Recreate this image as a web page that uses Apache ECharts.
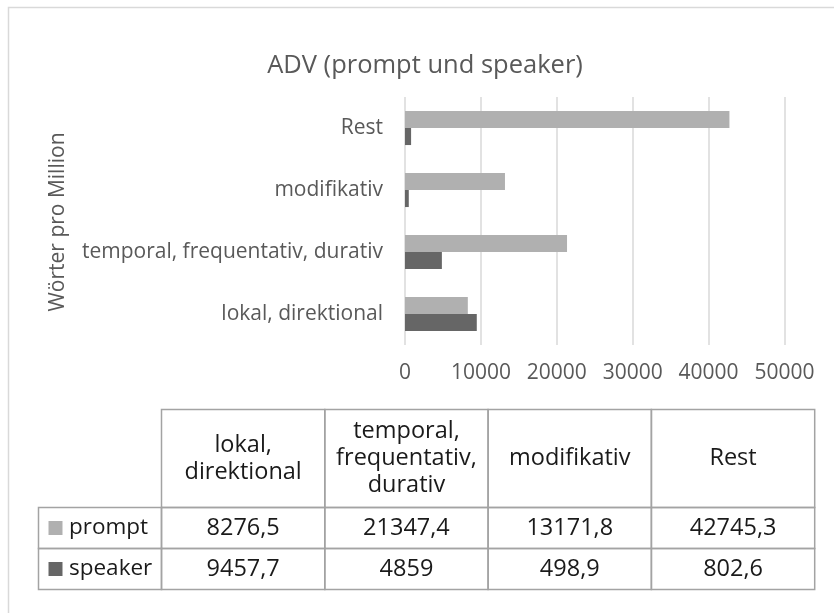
<!DOCTYPE html>
<html>
<head>
<meta charset="utf-8">
<script src="https://cdn.jsdelivr.net/npm/echarts@6/dist/echarts.min.js"></script>
<style>
html,body{margin:0;padding:0;background:#fff;}
#chart{width:834px;height:613px;}
</style>
</head>
<body>
<div id="chart"></div>
<script>
var titleText = 'ADV (prompt und speaker)';
var yAxisTitle = 'Wörter pro Million';
var categories = ['lokal, direktional', 'temporal, frequentativ, durativ', 'modifikativ', 'Rest'];
var tableHeaders = ['lokal,\ndirektional', 'temporal,\nfrequentativ,\ndurativ', 'modifikativ', 'Rest'];
var seriesNames = ['prompt', 'speaker'];
var promptValues = [8276.5, 21347.4, 13171.8, 42745.3];
var speakerValues = [9457.7, 4859, 498.9, 802.6];
var xTicks = [0, 10000, 20000, 30000, 40000, 50000];

var FONT = 'Open Sans';
var colors = { prompt: '#b0b0b0', speaker: '#666666' };

function fmt(v) { return String(v).replace('.', ','); }

var chart = echarts.init(document.getElementById('chart'), null, { renderer: 'canvas' });

var tX0 = 38.5, tLabelW = 123, colW = 163.3;
var tY0 = 409.5, headH = 98, rowH = 41;
var border = '#a3a3a3';
var TS = 23.5;
var g = [];
g.push({ type: 'rect', shape: { x: 8.5, y: 7.5, width: 900, height: 700 }, style: { fill: 'none', stroke: '#d9d9d9', lineWidth: 1.5 }, silent: true });
g.push({ type: 'text', x: 425, y: 66, style: { text: titleText, fontSize: 25.5, fontFamily: FONT, fill: '#595959', align: 'center', verticalAlign: 'middle' } });
g.push({ type: 'text', x: 58, y: 222, rotation: Math.PI / 2, style: { text: yAxisTitle, fontSize: 21, fontFamily: FONT, fill: '#595959', align: 'center', verticalAlign: 'middle' } });

var hx = tX0 + tLabelW;
for (var i = 0; i < tableHeaders.length; i++) {
  var cx = hx + i * colW;
  g.push({ type: 'rect', shape: { x: cx, y: tY0, width: colW, height: headH }, style: { fill: 'none', stroke: border, lineWidth: 1.5 } });
  g.push({ type: 'text', x: cx + colW / 2, y: tY0 + headH / 2, style: { text: tableHeaders[i], fontSize: TS, fontFamily: FONT, lineHeight: 27, fill: '#1a1a1a', align: 'center', verticalAlign: 'middle' } });
}
var rows = [promptValues, speakerValues];
for (var r = 0; r < rows.length; r++) {
  var ry = tY0 + headH + r * rowH;
  g.push({ type: 'rect', shape: { x: tX0, y: ry, width: tLabelW, height: rowH }, style: { fill: 'none', stroke: border, lineWidth: 1.5 } });
  g.push({ type: 'rect', shape: { x: tX0 + 10, y: ry + rowH / 2 - 7, width: 14, height: 14 }, style: { fill: colors[seriesNames[r]] } });
  g.push({ type: 'text', x: tX0 + 30.5, y: ry + rowH / 2, style: { text: seriesNames[r], fontSize: 22.5, fontFamily: FONT, fill: '#1a1a1a', align: 'left', verticalAlign: 'middle' } });
  for (var c = 0; c < rows[r].length; c++) {
    var cx2 = hx + c * colW;
    g.push({ type: 'rect', shape: { x: cx2, y: ry, width: colW, height: rowH }, style: { fill: 'none', stroke: border, lineWidth: 1.5 } });
    g.push({ type: 'text', x: cx2 + colW / 2, y: ry + rowH / 2, style: { text: fmt(rows[r][c]), fontSize: TS, fontFamily: FONT, fill: '#1a1a1a', align: 'center', verticalAlign: 'middle' } });
  }
}

var option = {
  animation: false,
  backgroundColor: '#ffffff',
  textStyle: { fontFamily: FONT },
  grid: { left: 405, right: 49.5, top: 97, bottom: 268, containLabel: false },
  xAxis: {
    type: 'value', min: xTicks[0], max: xTicks[xTicks.length - 1], interval: xTicks[1] - xTicks[0],
    axisLine: { show: false }, axisTick: { show: false },
    axisLabel: { fontSize: 21, color: '#595959', margin: 18, fontFamily: FONT, formatter: function (v) { return String(v); } },
    splitLine: { show: true, lineStyle: { color: '#d9d9d9', width: 1.5 } }
  },
  yAxis: {
    type: 'category', data: categories,
    axisLine: { show: false }, axisTick: { show: false },
    axisLabel: { fontSize: 21, color: '#595959', margin: 22, fontFamily: FONT }
  },
  series: [
    { name: 'prompt', type: 'bar', data: promptValues, itemStyle: { color: colors.prompt }, barGap: '0%', barCategoryGap: '45%' },
    { name: 'speaker', type: 'bar', data: speakerValues, itemStyle: { color: colors.speaker }, barGap: '0%', barCategoryGap: '45%' }
  ],
  graphic: g
};
chart.setOption(option);
</script>
</body>
</html>
